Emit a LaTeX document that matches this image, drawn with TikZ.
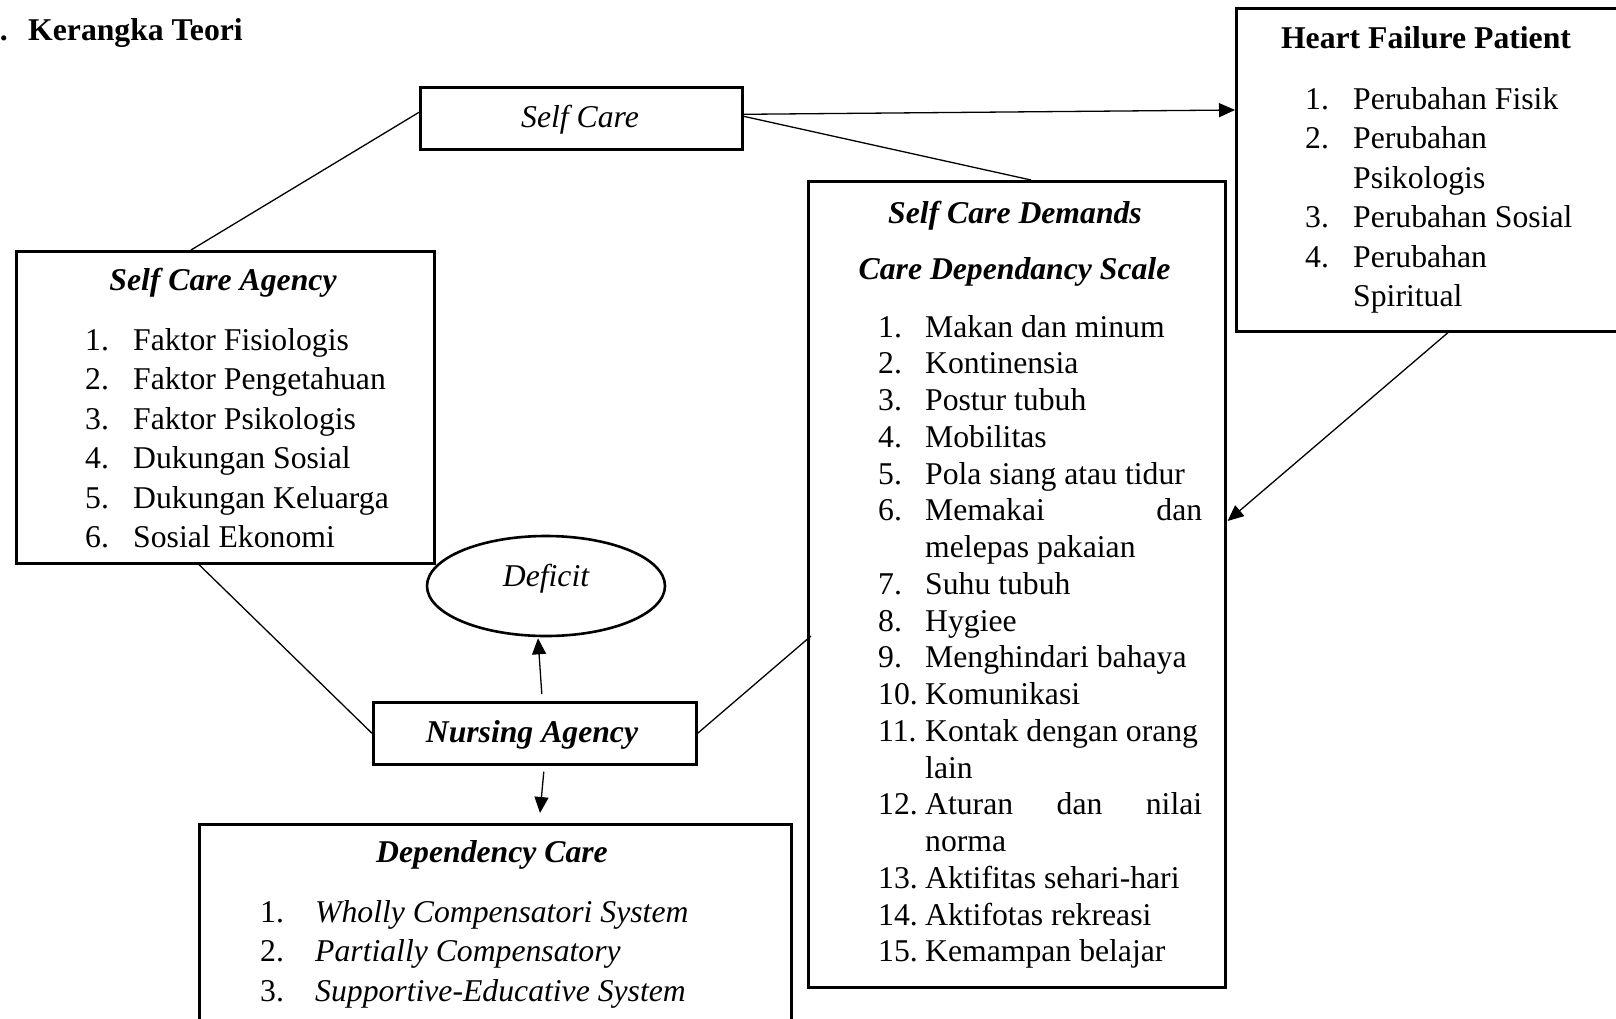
\documentclass[tikz,border=0pt]{standalone}
\usepackage{fontspec}
\setmainfont{Liberation Serif}
\usepackage{array}
\usetikzlibrary{arrows.meta,calc,shapes.geometric}
\newcommand\bodyfont{\fontsize{31.7}{39.5}\selectfont}
\newcommand\tightfont{\fontsize{31.7}{36.75}\selectfont}
\newcolumntype{L}[1]{>{\raggedright\arraybackslash}p{#1}}
\begin{document}
\begin{tikzpicture}[x=1pt,y=-1pt,
  box/.style={draw=black,line width=2.6pt,rectangle,inner sep=0pt,anchor=north west},
  txt/.style={inner sep=0pt,font=\bodyfont},
  conn/.style={draw=black,line width=1.3pt},
  arr/.style={conn,-{Triangle[length=16pt,width=14pt]}}]
\useasboundingbox (0,0) rectangle (1616,1018);
% title
\node[txt,anchor=base east] (num) at (8,40) {\textbf{2.}};
\node[txt,anchor=base west] (title) at (28,40) {\textbf{Kerangka Teori}};
% boxes
\node[box,minimum width=322pt,minimum height=62pt] (sc) at (419,86) {};
\node[box,minimum width=420pt,minimum height=323pt] (hf) at (1235,7) {};
\node[box,minimum width=418pt,minimum height=312pt] (sca) at (15,250) {};
\node[box,minimum width=417pt,minimum height=806pt] (scd) at (807,180) {};
\node[draw=black,line width=2.6pt,ellipse,inner sep=0pt,minimum width=238pt,minimum height=100pt] (def) at (546,586) {};
\node[box,minimum width=323pt,minimum height=62pt] (na) at (372,701) {};
\node[box,minimum width=592pt,minimum height=260pt] (dc) at (198,823) {};
% texts
\node[txt,anchor=base] (sctx) at (580,127) {\itshape Self Care};
\node[txt,anchor=base] (hft) at (1426,48) {\bfseries Heart Failure Patient};
\node[txt,anchor=base west] (hfl) at (1305,109) {\bodyfont\begin{tabular}[t]{@{}L{48pt}@{}L{260pt}@{}}
1. & Perubahan Fisik\\
2. & Perubahan\newline Psikologis\\
3. & Perubahan Sosial\\
4. & Perubahan\newline Spiritual
\end{tabular}};
\node[txt,anchor=base] (scat) at (223,290) {\bfseries\itshape Self Care Agency};
\node[txt,anchor=base west] (scal) at (85,350) {\bodyfont\begin{tabular}[t]{@{}L{48pt}@{}L{300pt}@{}}
1. & Faktor Fisiologis\\
2. & Faktor Pengetahuan\\
3. & Faktor Psikologis\\
4. & Dukungan Sosial\\
5. & Dukungan Keluarga\\
6. & Sosial Ekonomi
\end{tabular}};
\node[txt,anchor=base] (scdt1) at (1015,223) {\bfseries\itshape Self Care Demands};
\node[txt,anchor=base] (scdt2) at (1014.5,279) {\bfseries\itshape Care Dependancy Scale};
\node[txt,anchor=base west] (scdl) at (878,337) {\tightfont\begin{tabular}[t]{@{}L{47pt}@{}L{277pt}@{}}
1. & Makan dan minum\\
2. & Kontinensia\\
3. & Postur tubuh\\
4. & Mobilitas\\
5. & Pola siang atau tidur\\
6. & Memakai\hfill dan\newline melepas pakaian\\
7. & Suhu tubuh\\
8. & Hygiee\\
9. & Menghindari bahaya\\
10. & Komunikasi\\
11. & Kontak dengan orang\newline lain\\
12. & Aturan\hfill dan\hfill nilai\newline norma\\
13. & Aktifitas sehari-hari\\
14. & Aktifotas rekreasi\\
15. & Kemampan belajar
\end{tabular}};
\node[txt,anchor=base] (deft) at (546,586) {\itshape Deficit};
\node[txt,anchor=base] (nat) at (532,742) {\bfseries\itshape Nursing Agency};
\node[txt,anchor=base] (dct) at (492,862) {\bfseries\itshape Dependency Care};
\node[txt,anchor=base west] (dcl) at (260,922) {\bodyfont\begin{tabular}[t]{@{}L{55pt}@{}L{420pt}@{}}
1. & \itshape Wholly Compensatori System\\
2. & \itshape Partially Compensatory\\
3. & \itshape Supportive-Educative System
\end{tabular}};
% connectors
\draw[conn] ($(sc.west)+(0,-6)$) -- ($(sca.north west)+(176,0)$);
\draw[conn] ($(sca.south west)+(184,0)$) -- (na.west);
\draw[conn] (na.east) -- ($(scd.north west)+(4,456)$);
\draw[arr] ($(sc.east)+(0,-4)$) -- ($(hf.north west)+(0,103)$);
\draw[conn] ($(sc.east)+(0,-2)$) -- ($(scd.north west)+(224,0)$);
\draw[arr] ($(hf.south west)+(213,0)$) -- ($(scd.north east)+(1,341)$);
\draw[arr] ($(na.north)+(7,-7)$) -- ($(def.south)+(-8,1)$);
\draw[arr] ($(na.south)+(9,6)$) -- ($(dc.north west)+(342,-10)$);
\end{tikzpicture}
\end{document}
